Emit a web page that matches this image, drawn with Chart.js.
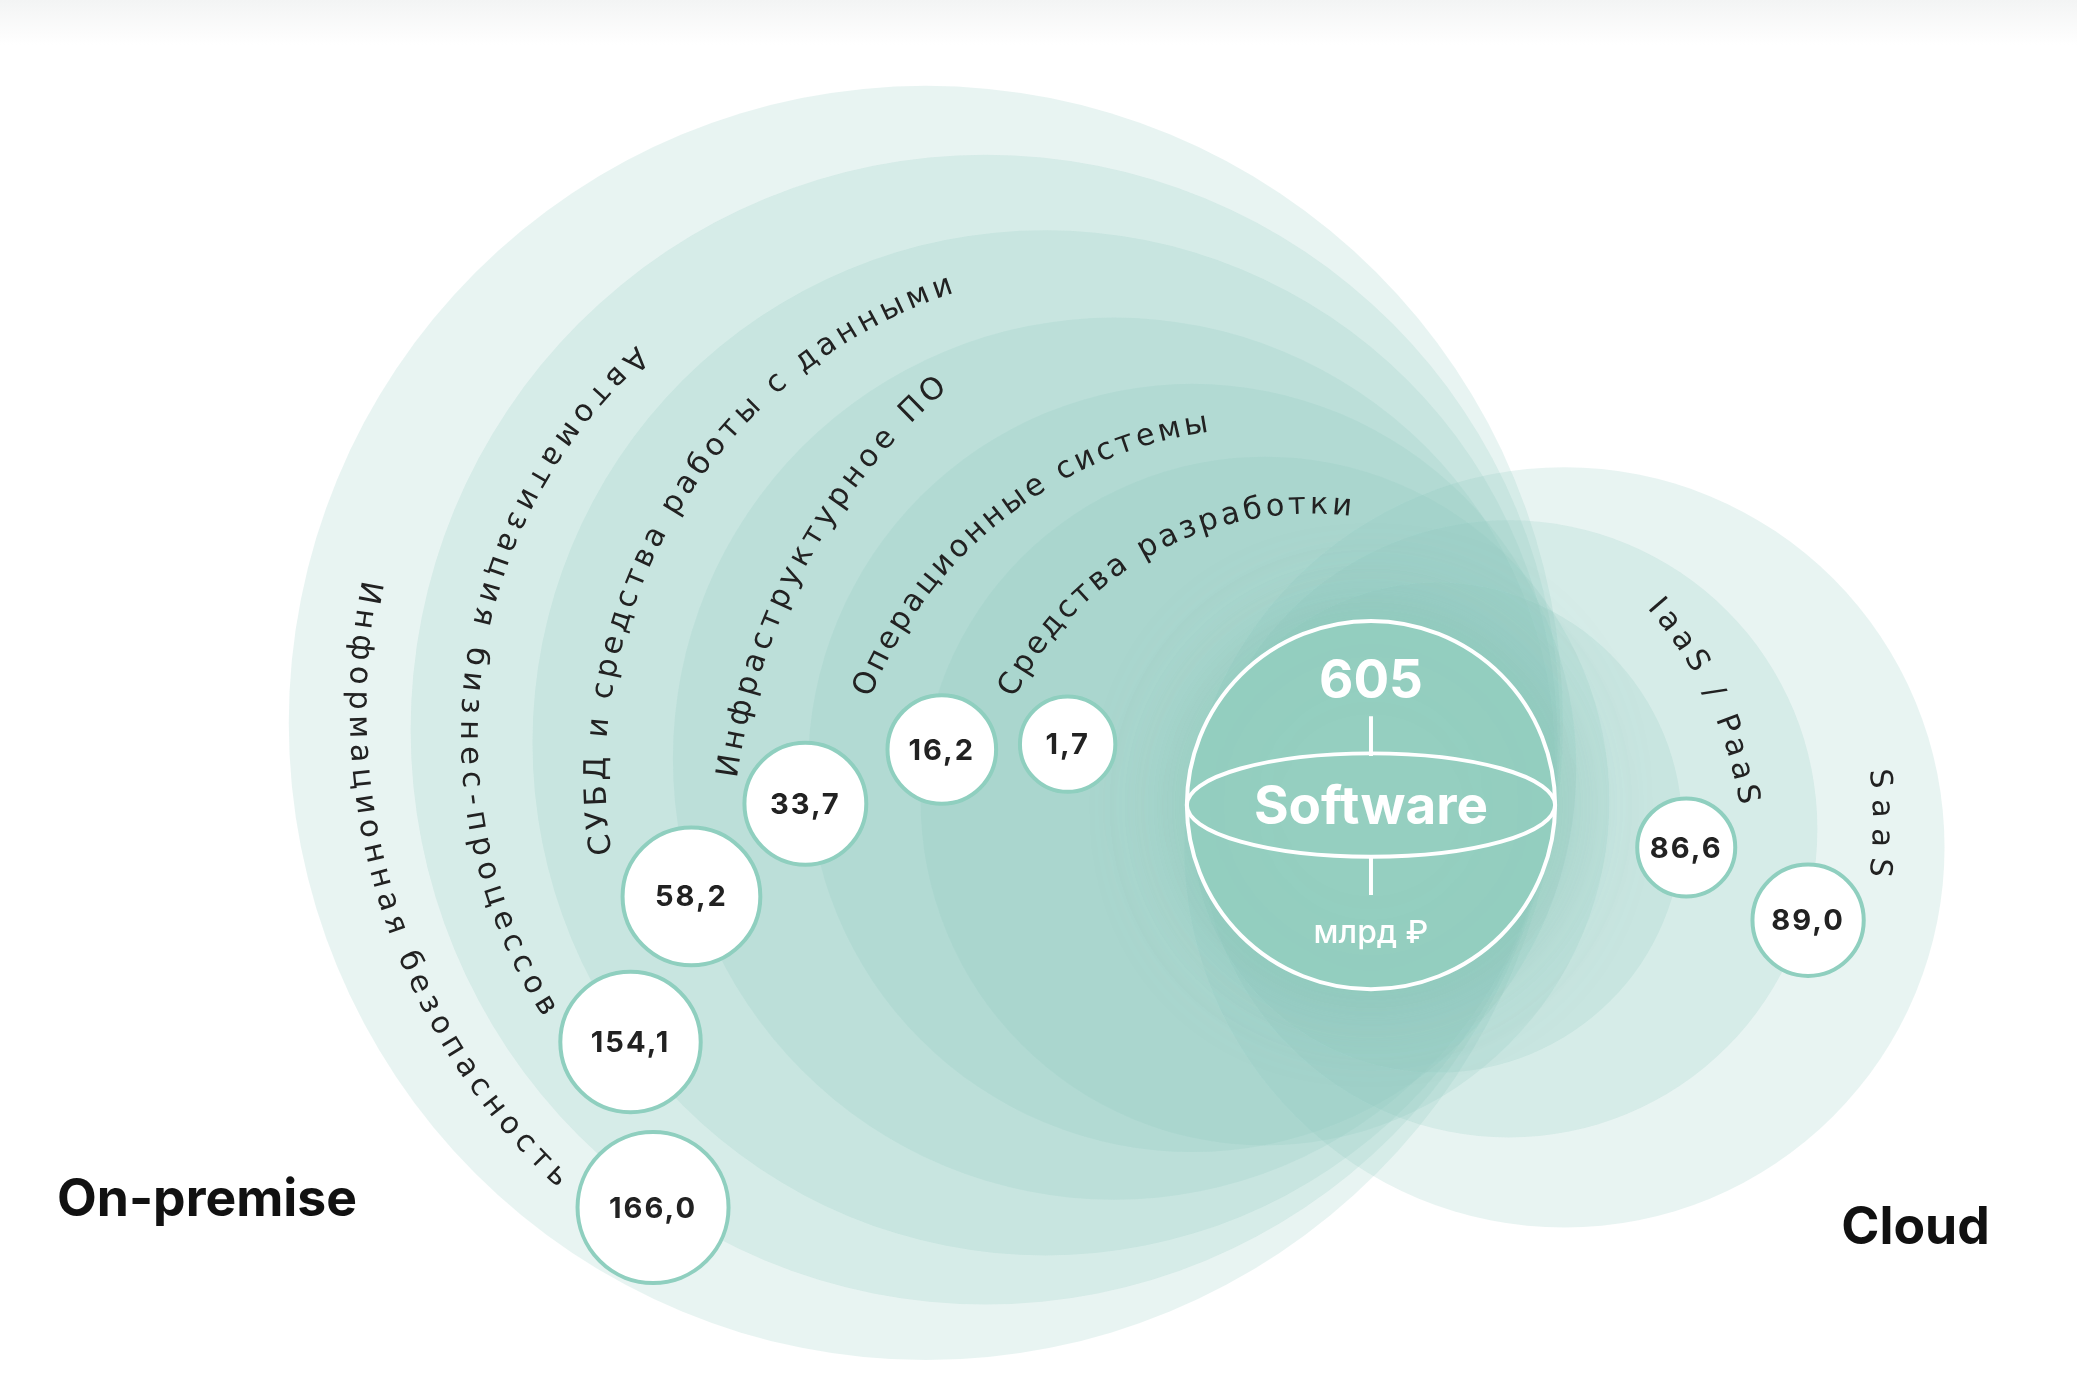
<!DOCTYPE html>
<html lang="ru">
<head>
<meta charset="utf-8">
<title>Рынок ПО: On-premise и Cloud</title>
<script src="https://cdn.jsdelivr.net/npm/chart.js@4.4.1/dist/chart.umd.min.js"></script>
<style>
  html, body { margin: 0; padding: 0; background: #fff; }
  #wrap {
    width: 2077px; height: 1385px; position: relative;
    background: linear-gradient(180deg, #f3f4f4 0px, #ffffff 45px);
  }
</style>
</head>
<body>
<div id="wrap"><canvas id="chart"></canvas></div>
<script>
// values, млрд ₽
const onPremCategories = [
    'Информационная безопасность',
    'Автоматизация бизнес-процессов',
    'СУБД и средства работы с данными',
    'Инфраструктурное ПО',
    'Операционные системы',
    'Средства разработки'
];
const onPremValues = [166.0, 154.1, 58.2, 33.7, 16.2, 1.7];
const cloudCategories = ['IaaS / PaaS', 'SaaS'];
const cloudValues = [86.6, 89.0];
const totalValue = 605;
const totalLabel = 'Software';
const unitLabel = 'млрд ₽';
const groupLabels = ['On-premise', 'Cloud'];

// layout on a 1568 x 1046 grid (the axes run over the same grid)
const GRID_W = 1568, GRID_H = 1046;
const onPremRings = [
    { x: 699, y: 546, r: 481 },
    { x: 744, y: 551, r: 434 },
    { x: 789, y: 561, r: 387 },
    { x: 841, y: 573, r: 333 },
    { x: 900, y: 580, r: 290 },
    { x: 955, y: 605, r: 260 }
];
const cloudRings = [
    { x: 1181, y: 640, r: 287 },
    { x: 1139, y: 626, r: 233 },
    { x: 1085, y: 625, r: 185 }
];
const onPremDots = [
    { x: 493, y: 912, r: 57 },
    { x: 476, y: 787, r: 53 },
    { x: 522, y: 677, r: 52 },
    { x: 608, y: 607, r: 46 },
    { x: 711, y: 566, r: 41 },
    { x: 806, y: 562, r: 36 }
];
const cloudDots = [
    { x: 1273, y: 640, r: 37 },
    { x: 1365, y: 695, r: 42 }
];
const globe = { x: 1035, y: 608, r: 139 };
// label arcs: centre, radius, angle of first and last letter (deg)
const onPremArcs = [
    { cx: 760, cy: 535, R: 490, a0: 190.3, a1: 133.9 },
    { cx: 742, cy: 556, R: 388, a0: 227.3, a1: 148.4 },
    { cx: 840, cy: 585, R: 389, a0: 172.2, a1: 250.7 },
    { cx: 1026, cy: 652, R: 480, a0: 188.8, a1: 228.0 },
    { cx: 958, cy: 647, R: 330, a0: 203.3, a1: 260.4 },
    { cx: 990, cy: 638, R: 256, a0: 208.1, a1: 275.2 }
];
const cloudArcs = [
    { cx: 1023, cy: 654, R: 300, a0: -40.8, a1: -10.4 },
    { cx: 1120, cy: 621, R: 300, a0: -6.3, a1: 6.5 }
];

const FONT = 'Inter, "Noto Sans", "DejaVu Sans", sans-serif';
const LABEL_FONT = '"DejaVu Sans", "Noto Sans", sans-serif';
const RING_FILL = 'rgba(140, 200, 190, 0.2)';

// scatter whose points are big circles: keep the plot area the full canvas
class RingsController extends Chart.ScatterController {
    getMaxOverflow() { return 0; }
}
RingsController.id = 'rings';
RingsController.defaults = Chart.ScatterController.defaults;
RingsController.overrides = Chart.ScatterController.overrides;
Chart.register(RingsController);

function unit(chart) {
    const s = chart.scales.x;
    return s.getPixelForValue(1) - s.getPixelForValue(0);
}
function toPx(chart, x, y) {
    return { x: chart.scales.x.getPixelForValue(x), y: chart.scales.y.getPixelForValue(y) };
}
function fmt(v) {
    return v.toFixed(1).replace('.', ',');
}

function circleSet(label, items, fill, border, borderWidth, order) {
    return {
        label: label,
        data: items.map(c => ({ x: c.x, y: c.y })),
        sizes: items.map(c => c.r),
        pointRadius: ctx => ctx.dataset.sizes[ctx.dataIndex] * unit(ctx.chart),
        pointBackgroundColor: fill,
        pointBorderColor: border,
        pointBorderWidth: borderWidth,
        showLine: false,
        order: order,
        clip: false
    };
}

function arcText(ctx, text, arc, chart) {
    const k = unit(chart);
    const c = toPx(chart, arc.cx, arc.cy);
    const R = arc.R * k;
    const a0 = arc.a0 * Math.PI / 180, a1 = arc.a1 * Math.PI / 180;
    const dir = a1 > a0 ? 1 : -1;
    const chars = Array.from(text);
    const w = chars.map(ch => ctx.measureText(ch).width);
    const inner = w.reduce((s, v) => s + v, 0) - w[0] / 2 - w[w.length - 1] / 2;
    const gap = (Math.abs(a1 - a0) * R - inner) / (chars.length - 1);
    let s = 0;
    chars.forEach((ch, i) => {
        if (i > 0) s += w[i - 1] / 2 + gap + w[i] / 2;
        const a = a0 + dir * s / R;
        ctx.save();
        ctx.translate(c.x + R * Math.cos(a), c.y + R * Math.sin(a));
        ctx.rotate(a + dir * Math.PI / 2);
        ctx.fillText(ch, 0, 0);
        ctx.restore();
    });
}

const overlay = {
    id: 'overlay',
    beforeDatasetDraw(chart, args) {
        if (args.meta.label !== 'globe') return;
        const ctx = chart.ctx;
        ctx.save();
        ctx.shadowColor = 'rgba(110, 185, 165, 0.45)';
        ctx.shadowBlur = 70 * unit(chart);
    },
    afterDatasetDraw(chart, args) {
        if (args.meta.label === 'globe') chart.ctx.restore();
    },
    afterDatasetsDraw(chart) {
        const ctx = chart.ctx;
        const k = unit(chart);
        ctx.save();
        ctx.textAlign = 'center';
        ctx.textBaseline = 'middle';

        // globe lines
        const g = toPx(chart, globe.x, globe.y);
        ctx.strokeStyle = '#ffffff';
        ctx.lineWidth = 3 * k;
        ctx.beginPath();
        ctx.ellipse(g.x, g.y, globe.r * k, 39 * k, 0, 0, Math.PI * 2);
        ctx.stroke();
        ctx.beginPath();
        ctx.moveTo(g.x, g.y - 67 * k); ctx.lineTo(g.x, g.y - 37 * k);
        ctx.moveTo(g.x, g.y + 38 * k); ctx.lineTo(g.x, g.y + 68 * k);
        ctx.stroke();

        ctx.fillStyle = '#ffffff';
        ctx.font = `700 ${40 * k}px ${FONT}`;
        ctx.fillText(String(totalValue), g.x, g.y - 93 * k);
        ctx.fillText(totalLabel, g.x, g.y + 2 * k);
        ctx.font = `500 ${24 * k}px ${FONT}`;
        ctx.fillText(unitLabel, g.x, g.y + 97 * k);

        // curved category labels
        ctx.fillStyle = '#222222';
        ctx.font = `400 ${23 * k}px ${LABEL_FONT}`;
        onPremCategories.forEach((t, i) => arcText(ctx, t, onPremArcs[i], chart));
        cloudCategories.forEach((t, i) => arcText(ctx, t, cloudArcs[i], chart));

        // values in the white dots
        ctx.font = `700 ${22 * k}px ${FONT}`;
        if ('letterSpacing' in ctx) ctx.letterSpacing = `${1.5 * k}px`;
        onPremValues.forEach((v, i) => {
            const p = toPx(chart, onPremDots[i].x, onPremDots[i].y);
            ctx.fillText(fmt(v), p.x, p.y + 1 * k);
        });
        cloudValues.forEach((v, i) => {
            const p = toPx(chart, cloudDots[i].x, cloudDots[i].y);
            ctx.fillText(fmt(v), p.x, p.y + 1 * k);
        });
        if ('letterSpacing' in ctx) ctx.letterSpacing = '0px';

        // group titles
        ctx.fillStyle = '#111111';
        ctx.textAlign = 'left';
        ctx.font = `700 ${39 * k}px ${FONT}`;
        let p = toPx(chart, 43, 907);
        ctx.fillText(groupLabels[0], p.x, p.y);
        p = toPx(chart, 1390, 928);
        ctx.fillText(groupLabels[1], p.x, p.y);
        ctx.restore();
    }
};

window.onload = () => {
    const ctx = document.getElementById('chart').getContext('2d');
    new Chart(ctx, {
        type: 'rings',
        data: {
            datasets: [
                circleSet('dots', onPremDots.concat(cloudDots), '#ffffff', '#8fcfbf', 4, 0),
                circleSet('globe', [globe], '#95cfc0', '#ffffff', 4, 1),
                circleSet('on-premise', onPremRings, RING_FILL, 'rgba(0,0,0,0)', 0, 2),
                circleSet('cloud', cloudRings, RING_FILL, 'rgba(0,0,0,0)', 0, 3)
            ]
        },
        options: {
            responsive: true, maintainAspectRatio: false,
            animation: false,
            events: [],
            layout: { padding: 0 },
            scales: {
                x: { type: 'linear', display: false, min: 0, max: GRID_W },
                y: { type: 'linear', display: false, min: 0, max: GRID_H, reverse: true }
            },
            plugins: { legend: { display: false }, tooltip: { enabled: false } }
        },
        plugins: [overlay]
    });
};
</script>
</body>
</html>
